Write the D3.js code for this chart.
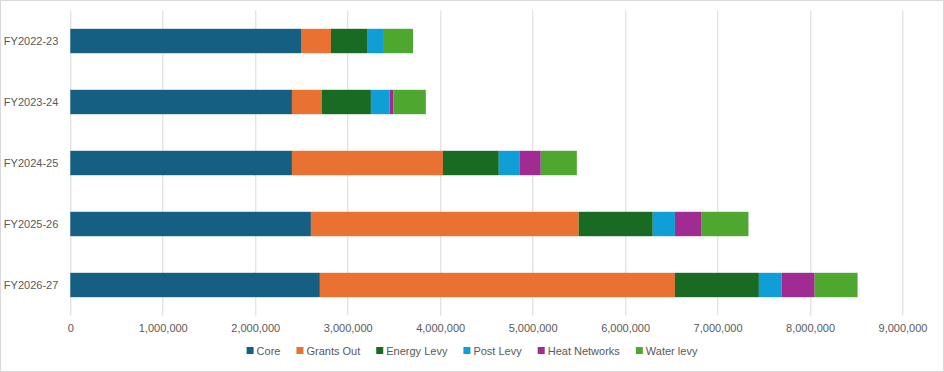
<!DOCTYPE html>
<html>
<head>
<meta charset="utf-8">
<script src="https://cdn.jsdelivr.net/npm/d3@7"></script>
<style>
  body { margin: 0; background: #fff; }
  text { font-family: "Liberation Sans", Arial, sans-serif; fill: #595959; }
</style>
</head>
<body>
<div class="chart"></div>
<script>
var svgWidth = 944;
var svgHeight = 372;

var margin = { top: 10.5, right: 41.5, bottom: 56.5, left: 70.3 };
var width = svgWidth - margin.left - margin.right;
var height = svgHeight - margin.top - margin.bottom;

// data
var years = ["FY2022-23", "FY2023-24", "FY2024-25", "FY2025-26", "FY2026-27"];
var seriesNames = ["Core", "Grants Out", "Energy Levy", "Post Levy", "Heat Networks", "Water levy"];
var colors = ["#156082", "#E97132", "#196B24", "#0F9ED5", "#A02B93", "#4EA72E"];
var core = [2495000, 2397000, 2397000, 2602000, 2699000];
var grantsOut = [324000, 324000, 1633000, 2897000, 3840000];
var energyLevy = [390000, 530000, 604000, 800000, 908000];
var postLevy = [173000, 202000, 228000, 240000, 247000];
var heatNetworks = [0, 39000, 226000, 289000, 356000];
var waterLevy = [324000, 353000, 390000, 506000, 464000];
var xTicks = [0, 1000000, 2000000, 3000000, 4000000, 5000000, 6000000, 7000000, 8000000, 9000000];

var seriesValues = [core, grantsOut, energyLevy, postLevy, heatNetworks, waterLevy];

var tableData = years.map(function(y, i) {
  var row = { year: y };
  seriesNames.forEach(function(s, j) { row[s] = seriesValues[j][i]; });
  return row;
});

var stacked = d3.stack().keys(seriesNames)(tableData);

var svg = d3.select(".chart")
  .append("svg")
  .attr("width", svgWidth)
  .attr("height", svgHeight);

// chart border
svg.append("rect")
  .attr("x", 0.5).attr("y", 0.5)
  .attr("width", svgWidth - 1).attr("height", svgHeight - 1)
  .attr("fill", "#fff")
  .attr("stroke", "#d9d9d9");

var chartGroup = svg.append("g")
  .attr("transform", `translate(${margin.left}, ${margin.top})`);

var xScale = d3.scaleLinear()
  .domain([0, 9000000])
  .range([0, width]);

var yScale = d3.scaleBand()
  .domain(years)
  .range([0, height])
  .paddingInner(0.6)
  .paddingOuter(0.3);

// gridlines
chartGroup.selectAll(".grid")
  .data(xTicks)
  .enter()
  .append("line")
  .attr("x1", d => Math.round(xScale(d)) + 0.5)
  .attr("x2", d => Math.round(xScale(d)) + 0.5)
  .attr("y1", 0)
  .attr("y2", height)
  .attr("stroke", "#d9d9d9")
  .attr("stroke-width", 1);

// bars
chartGroup.selectAll(".series")
  .data(stacked)
  .enter()
  .append("g")
  .attr("fill", (d, i) => colors[i])
  .selectAll("rect")
  .data(d => d)
  .enter()
  .append("rect")
  .attr("x", d => xScale(d[0]))
  .attr("width", d => xScale(d[1]) - xScale(d[0]))
  .attr("y", d => yScale(d.data.year))
  .attr("height", yScale.bandwidth());

// x axis labels
var bottomAxis = d3.axisBottom(xScale)
  .tickValues(xTicks)
  .tickFormat(d3.format(","))
  .tickSize(0)
  .tickPadding(9);

var xAxisG = chartGroup.append("g")
  .attr("transform", `translate(0, ${height})`)
  .call(bottomAxis);
xAxisG.select(".domain").remove();
xAxisG.selectAll("text")
  .style("font-size", "11px")
  .style("font-family", "'Liberation Sans', Arial, sans-serif")
  .attr("fill", "#595959");

// y axis labels
var leftAxis = d3.axisLeft(yScale).tickSize(0).tickPadding(12);
var yAxisG = chartGroup.append("g").call(leftAxis);
yAxisG.select(".domain").remove();
yAxisG.selectAll("text")
  .style("font-size", "11px")
  .style("font-family", "'Liberation Sans', Arial, sans-serif")
  .attr("fill", "#595959");

// legend
var legend = svg.append("g");
var legendY = 351;
var cursor = 0;
seriesNames.forEach(function(name, i) {
  var item = legend.append("g").attr("transform", `translate(${cursor}, 0)`);
  item.append("rect")
    .attr("x", 0)
    .attr("y", legendY - 4)
    .attr("width", 7)
    .attr("height", 7)
    .attr("fill", colors[i]);
  var t = item.append("text")
    .attr("x", 10)
    .attr("y", legendY)
    .attr("dy", "0.35em")
    .style("font-size", "11px")
    .text(name);
  cursor += 10 + t.node().getComputedTextLength() + 16;
});
var legendWidth = cursor - 16;
legend.attr("transform", `translate(${(svgWidth - legendWidth) / 2}, 0)`);
</script>
</body>
</html>
